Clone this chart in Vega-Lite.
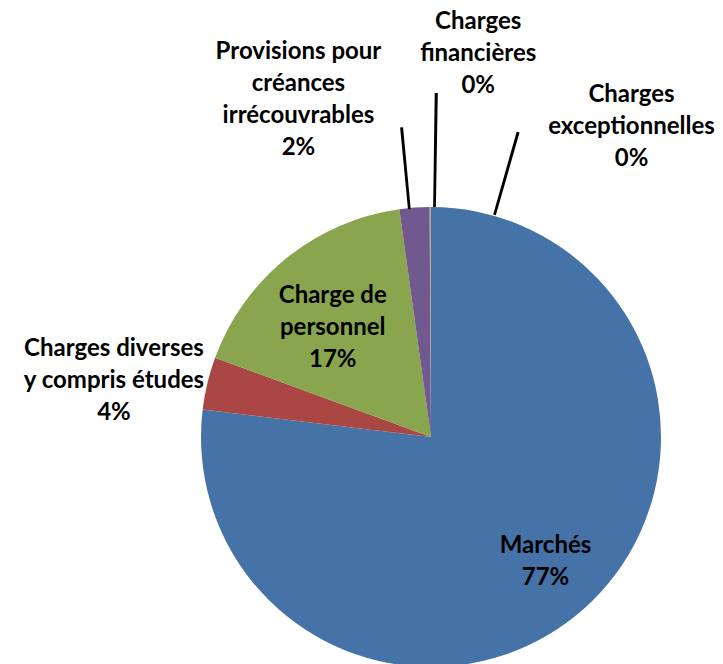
{
  "$schema": "https://vega.github.io/schema/vega-lite/v6.json",
  "autosize": "none",
  "width": 460,
  "height": 460,
  "padding": {"left": 201, "top": 207, "right": 62, "bottom": 0},
  "background": "white",
  "view": {"stroke": null},
  "config": {"text": {"font": "Lato", "fontWeight": "bold", "fontSize": 24, "lineHeight": 32, "lineBreak": "\n", "color": "black", "align": "center", "baseline": "middle"}},
  "data": {"values": [
    {"idx": 1, "name": "Marchés", "value": 76.9, "label": "Marchés\n77%"},
    {"idx": 2, "name": "Charges diverses y compris études", "value": 3.7, "label": "Charges diverses\ny compris études\n4%"},
    {"idx": 3, "name": "Charge de personnel", "value": 17.2, "label": "Charge de\npersonnel\n17%"},
    {"idx": 4, "name": "Provisions pour créances irrécouvrables", "value": 2.1, "label": "Provisions pour\ncréances\nirrécouvrables\n2%"},
    {"idx": 5, "name": "Charges financières", "value": 0.05, "label": "Charges\nfinancières\n0%"},
    {"idx": 6, "name": "Charges exceptionnelles", "value": 0.05, "label": "Charges\nexceptionnelles\n0%"}
  ]},
  "encoding": {
    "theta": {"field": "value", "type": "quantitative", "stack": true},
    "order": {"field": "idx", "type": "quantitative"}
  },
  "layer": [
    {
      "mark": {"type": "arc", "outerRadius": 230},
      "encoding": {
        "color": {"field": "name", "type": "nominal", "legend": null,
          "scale": {"domain": ["Marchés", "Charges diverses y compris études", "Charge de personnel", "Provisions pour créances irrécouvrables", "Charges financières", "Charges exceptionnelles"],
                    "range": ["#4572A7", "#AA4643", "#89A54E", "#71588F", "#4198AF", "#DB843D"]}}
      }
    },
    {
      "mark": {"type": "arc", "radius": 310, "radius2": 230, "thetaOffset": -0.09, "filled": false, "stroke": "black", "strokeWidth": 2},
      "encoding": {"strokeOpacity": {"condition": {"test": "datum.idx === 5", "value": 1}, "value": 0}}
    },
    {
      "mark": {"type": "arc", "radius": 343, "radius2": 231, "thetaOffset": 0.02, "filled": false, "stroke": "black", "strokeWidth": 2},
      "encoding": {"strokeOpacity": {"condition": {"test": "datum.idx === 5", "value": 1}, "value": 0}}
    },
    {
      "mark": {"type": "arc", "radius": 316, "radius2": 232, "thetaOffset": 0.28, "filled": false, "stroke": "black", "strokeWidth": 2},
      "encoding": {"strokeOpacity": {"condition": {"test": "datum.idx === 6", "value": 1}, "value": 0}}
    },
    {
      "mark": {"type": "text", "radius": 171, "dx": 1, "dy": -19},
      "encoding": {"text": {"condition": {"test": "datum.idx === 1", "field": "label", "type": "nominal"}, "value": ""}}
    },
    {
      "mark": {"type": "text", "radius": 324, "dx": -2, "dy": -12},
      "encoding": {"text": {"condition": {"test": "datum.idx === 2", "field": "label", "type": "nominal"}, "value": ""}}
    },
    {
      "mark": {"type": "text", "radius": 147, "dx": -6, "dy": -27},
      "encoding": {"text": {"condition": {"test": "datum.idx === 3", "field": "label", "type": "nominal"}, "value": ""}}
    },
    {
      "mark": {"type": "text", "radius": 340, "dx": -108, "dy": -46},
      "encoding": {"text": {"condition": {"test": "datum.idx === 4", "field": "label", "type": "nominal"}, "value": ""}}
    },
    {
      "mark": {"type": "text", "radius": 383, "dx": 49, "dy": -32},
      "encoding": {"text": {"condition": {"test": "datum.idx === 5", "field": "label", "type": "nominal"}, "value": ""}}
    },
    {
      "mark": {"type": "text", "radius": 310, "dx": 201, "dy": -32},
      "encoding": {"text": {"condition": {"test": "datum.idx === 6", "field": "label", "type": "nominal"}, "value": ""}}
    }
  ]
}
